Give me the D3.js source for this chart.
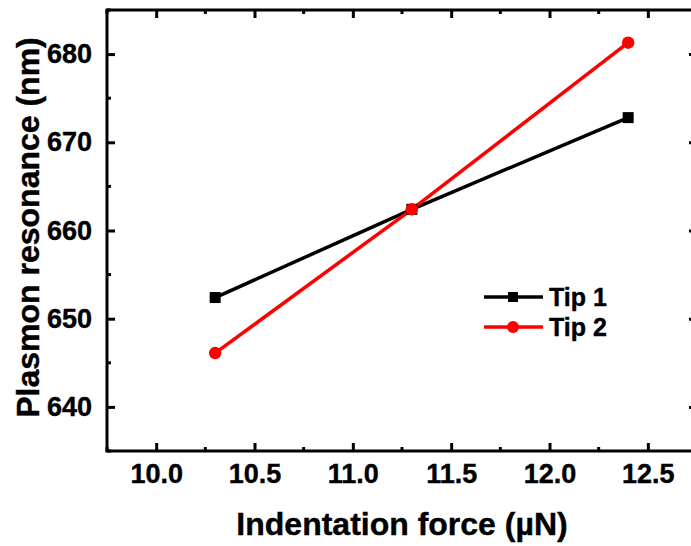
<!DOCTYPE html>
<html>
<head>
<meta charset="utf-8">
<script src="https://cdn.jsdelivr.net/npm/d3@7"></script>
<style>
  html, body { margin: 0; padding: 0; background: #fff; }
  svg { display: block; }
  text { font-family: "Liberation Sans", Arial, sans-serif; font-weight: bold; fill: #000; stroke: #000; stroke-width: 0.4px; }
</style>
</head>
<body>
<svg id="chart" width="691" height="546"></svg>
<script>
// Indentation force (µN) for each tip measurement
const forces = [10.3, 11.3, 12.4];
// Plasmon resonance (nm) per tip
const tip1 = [652.4, 662.4, 672.8];
const tip2 = [646.1, 662.4, 681.3];
const seriesNames = ["Tip 1", "Tip 2"];
const xTicks = [10.0, 10.5, 11.0, 11.5, 12.0, 12.5];
const yTicks = [640, 650, 660, 670, 680];

const W = 691, H = 546;
const margin = { left: 107, top: 10, right: -6, bottom: 95 };
const svg = d3.select("#chart");

const x = d3.scaleLinear().domain([9.75, 12.75]).range([margin.left, W - margin.right]);
const y = d3.scaleLinear().domain([635, 685]).range([H - margin.bottom, margin.top]);

const x0 = x.range()[0], x1 = x.range()[1];
const y0 = y.range()[0], y1 = y.range()[1];

const majorLen = 8, minorLen = 4, axisW = 3;
const tickFont = 27;
const xMinor = d3.range(9.75, 12.76, 0.25).filter(v => !xTicks.some(t => Math.abs(t - v) < 1e-6));
const yMinor = d3.range(635, 686, 5).filter(v => !yTicks.includes(v));

// Frame axes: bottom/left carry labels, top/right only ticks; all ticks point inward
function styleAxis(g) {
  g.select(".domain").remove();
  g.selectAll(".tick line").attr("stroke", "#000").attr("stroke-width", axisW);
}

const axBottom = svg.append("g").attr("transform", `translate(0,${y0})`)
  .call(d3.axisBottom(x).tickValues(xTicks).tickSizeInner(-majorLen).tickSizeOuter(0)
    .tickPadding(13).tickFormat(d3.format(".1f")));
styleAxis(axBottom);
axBottom.selectAll(".tick text").attr("font-size", tickFont).attr("dy", "0.71em")
  .style("font-family", "Liberation Sans, Arial, sans-serif").style("font-weight", "bold");

const axLeft = svg.append("g").attr("transform", `translate(${x0},0)`)
  .call(d3.axisLeft(y).tickValues(yTicks).tickSizeInner(-majorLen).tickSizeOuter(0)
    .tickPadding(15).tickFormat(d3.format("d")));
styleAxis(axLeft);
axLeft.selectAll(".tick text").attr("font-size", tickFont)
  .style("font-family", "Liberation Sans, Arial, sans-serif").style("font-weight", "bold");

const axTop = svg.append("g").attr("transform", `translate(0,${y1})`)
  .call(d3.axisTop(x).tickValues(xTicks).tickSizeInner(-majorLen).tickSizeOuter(0).tickFormat(""));
styleAxis(axTop);

const axRight = svg.append("g").attr("transform", `translate(${x1},0)`)
  .call(d3.axisRight(y).tickValues(yTicks).tickSizeInner(-majorLen).tickSizeOuter(0).tickFormat(""));
styleAxis(axRight);

// Minor ticks
const minorG = svg.append("g").attr("stroke", "#000").attr("stroke-width", axisW);
xMinor.forEach(v => {
  minorG.append("line").attr("x1", x(v)).attr("x2", x(v)).attr("y1", y0).attr("y2", y0 - minorLen);
  minorG.append("line").attr("x1", x(v)).attr("x2", x(v)).attr("y1", y1).attr("y2", y1 + minorLen);
});
yMinor.forEach(v => {
  minorG.append("line").attr("y1", y(v)).attr("y2", y(v)).attr("x1", x0).attr("x2", x0 + minorLen);
  minorG.append("line").attr("y1", y(v)).attr("y2", y(v)).attr("x1", x1).attr("x2", x1 - minorLen);
});

// Frame
svg.append("rect").attr("x", x0).attr("y", y1).attr("width", x1 - x0).attr("height", y0 - y1)
  .attr("fill", "none").attr("stroke", "#000").attr("stroke-width", axisW);

// Series
const series = [
  { name: seriesNames[0], values: tip1, color: "#000000", shape: "square" },
  { name: seriesNames[1], values: tip2, color: "#ff0000", shape: "circle" }
];
const line = d3.line().x(d => x(d[0])).y(d => y(d[1]));

function marker(g, shape, cx, cy, size, color) {
  if (shape === "square") {
    g.append("rect").attr("x", cx - size / 2).attr("y", cy - size / 2)
      .attr("width", size).attr("height", size).attr("fill", color);
  } else {
    g.append("circle").attr("cx", cx).attr("cy", cy).attr("r", size / 2).attr("fill", color);
  }
}

series.forEach(s => {
  const pts = forces.map((f, i) => [f, s.values[i]]);
  svg.append("path").datum(pts).attr("d", line)
    .attr("fill", "none").attr("stroke", s.color).attr("stroke-width", 3.5);
});
series.forEach(s => {
  const g = svg.append("g");
  forces.forEach((f, i) => marker(g, s.shape, x(f), y(s.values[i]), s.shape === "square" ? 11 : 12.5, s.color));
});

// Legend
const legend = svg.append("g");
const legY = [297, 327];
series.forEach((s, i) => {
  legend.append("line").attr("x1", 484).attr("x2", 543).attr("y1", legY[i]).attr("y2", legY[i])
    .attr("stroke", s.color).attr("stroke-width", 3.5);
  marker(legend, s.shape, 513, legY[i], s.shape === "square" ? 10 : 12, s.color);
  legend.append("text").attr("x", 549).attr("y", legY[i]).attr("dy", "0.36em")
    .attr("font-size", 25).text(s.name);
});

// Axis titles
svg.append("text").attr("x", (x0 + x1) / 2).attr("y", 535).attr("text-anchor", "middle")
  .attr("font-size", 32).text("Indentation force (µN)");
svg.append("text").attr("transform", `translate(39,${(y0 + y1) / 2 - 3}) rotate(-90)`)
  .attr("text-anchor", "middle").attr("font-size", 32).text("Plasmon resonance (nm)");
</script>
</body>
</html>
